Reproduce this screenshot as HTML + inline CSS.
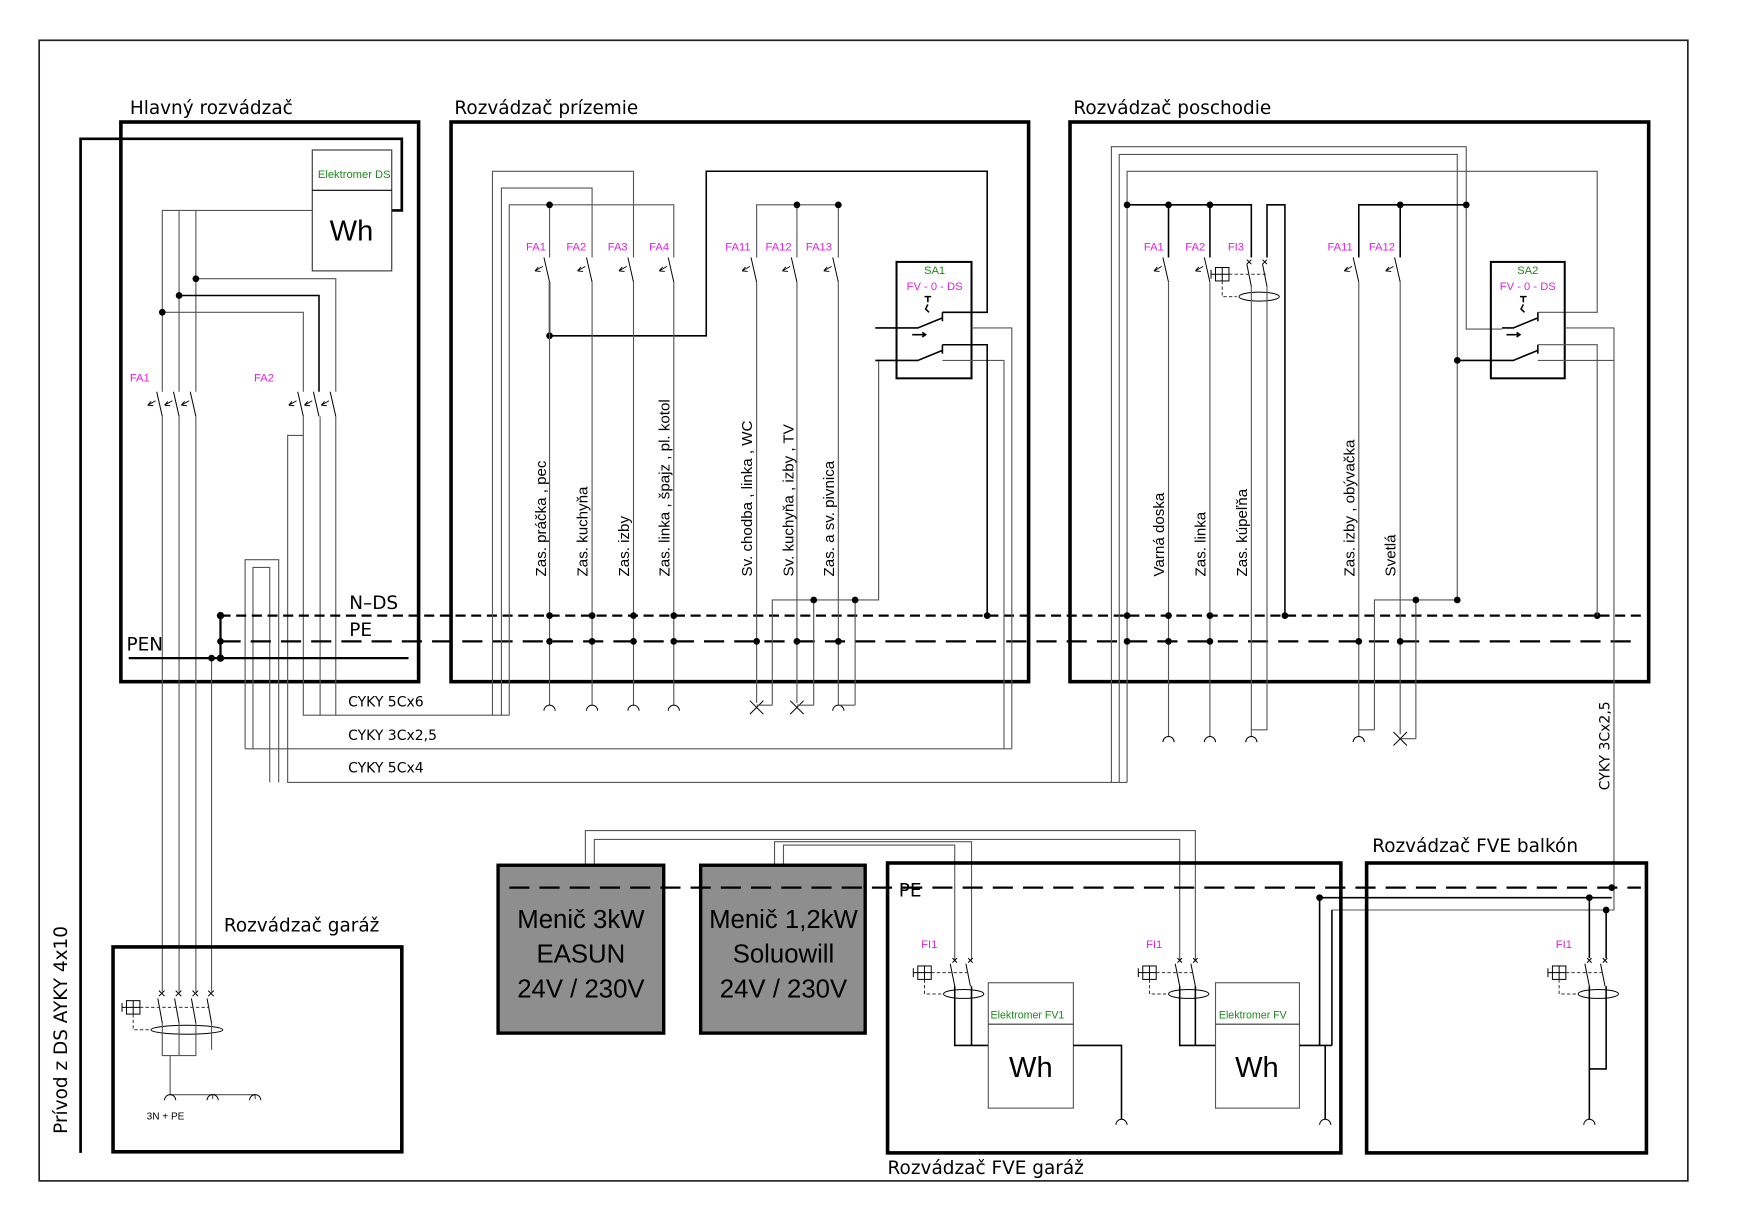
<!DOCTYPE html>
<html><head><meta charset="utf-8"><style>
html,body{margin:0;padding:0;background:#fff;}
svg{display:block;}
text{font-family:"Liberation Sans",sans-serif;}
.g{stroke:#555;stroke-width:1;fill:none}
.k{stroke:#000;stroke-width:1.4;fill:none}
.b{stroke:#000;stroke-width:3.2;fill:none}
.fa{fill:#e020e0;font-size:10px}
.gr{fill:#1a8a1a;font-size:10px}
.hd{font-size:16.5px;fill:#000;font-family:"DejaVu Sans",sans-serif}
.rl{font-family:"DejaVu Sans",sans-serif;font-size:12.5px}
.rv{font-family:"DejaVu Sans",sans-serif;font-size:13.5px}
</style></head><body>
<svg width="1755" height="1229" viewBox="0 0 1568 1098" preserveAspectRatio="none" xmlns="http://www.w3.org/2000/svg">
<defs>
<g id="mcb"><path d="M-5,0 L0,22" stroke="#000" stroke-width="0.9" fill="none"/><path d="M-6,8 L-13,12 M-13,12 L-8,12.5 M-13,12 L-10,8.5" stroke="#000" stroke-width="0.8" fill="none"/></g>
<g id="sock"><path d="M-5,5 A5,5 0 0 1 5,5" stroke="#000" stroke-width="0.9" fill="none"/></g>
<g id="xx"><path d="M-6,-6 L6,6 M6,-6 L-6,6" stroke="#000" stroke-width="0.9"/></g>
<g id="tst"><rect x="-6" y="-6" width="12" height="12" fill="none" stroke="#000" stroke-width="0.9"/><path d="M0,-6V6 M-6,0H6 M-10,-4V4 M-10,0H-6" stroke="#000" stroke-width="0.9"/></g>
</defs>
<rect width="1568" height="1098" fill="#fff"/>
<rect x="35" y="36" width="1473" height="1019" fill="none" stroke="#222" stroke-width="1.5"/>
<path d="M72,1030 V124 H359 V188 H350" stroke="#000" stroke-width="2.4" fill="none"/>
<text transform="translate(60,1013) rotate(-90)" class="hd">Prívod z DS AYKY 4x10</text>

<text x="116" y="102" class="hd">Hlavný rozvádzač</text>
<rect x="108" y="109" width="266" height="500" class="b"/>
<rect x="279" y="134" width="71" height="108" fill="#fff" stroke="#333" stroke-width="1"/>
<line x1="279" y1="170" x2="350" y2="170" stroke="#000" stroke-width="1"/>
<text x="284" y="159" class="gr">Elektromer DS</text>
<text x="314" y="215" text-anchor="middle" style="font-size:26px">Wh</text>
<path class="g" d="M279,188 H145 V350 M160,188 V350 M175,188 V350"/>
<path class="g" d="M175,249 H300 V350 M145,279 H271 V350"/>
<path class="k" d="M160,264 H285 V350" stroke-width="1.6"/>
<circle cx="175" cy="249" r="3"/><circle cx="160" cy="264" r="3"/><circle cx="145" cy="279" r="3"/>
<text x="116" y="341" class="fa">FA1</text><text x="227" y="341" class="fa">FA2</text>
<use href="#mcb" x="145" y="350"/><use href="#mcb" x="160" y="350"/><use href="#mcb" x="175" y="350"/>
<use href="#mcb" x="271" y="350"/><use href="#mcb" x="285" y="350"/><use href="#mcb" x="300" y="350"/>
<path class="g" d="M145,372 V886 M160,372 V886 M175,372 V886 M189,588 V886"/>
<path class="g" d="M271,372 V639 H455 M286,372 V639 M300,372 V639"/>
<path class="g" d="M271,389 H257 V699 H1007"/>
<path class="g" d="M219,669 V500 H249 V699 M226,669 V507 H241 V699 M219,669 H904"/>
<line x1="197" y1="550" x2="1466" y2="550" stroke="#000" stroke-width="2" stroke-dasharray="9,5"/>
<line x1="197" y1="573" x2="1466" y2="573" stroke="#000" stroke-width="2" stroke-dasharray="18,9"/>
<line x1="115" y1="588" x2="365" y2="588" stroke="#000" stroke-width="2"/>
<line x1="197" y1="550" x2="197" y2="588" stroke="#000" stroke-width="2"/>
<circle cx="197" cy="550" r="3.3"/><circle cx="197" cy="573" r="3"/><circle cx="197" cy="588" r="3.3"/><circle cx="189" cy="588" r="3"/>
<text x="312" y="544" class="hd">N–DS</text><text x="312" y="568" class="hd">PE</text><text x="113" y="581" class="hd">PEN</text>
<text x="311" y="631" class="rl">CYKY 5Cx6</text>
<text x="311" y="661" class="rl">CYKY 3Cx2,5</text>
<text x="311" y="690" class="rl">CYKY 5Cx4</text>

<text x="406" y="102" class="hd">Rozvádzač prízemie</text>
<rect x="403" y="109" width="516" height="500" class="b"/>
<path class="g" d="M440,639 V153 H566 V230 M448,639 V168 H529 V230 M455,639 V183 H602 V230 M491,183 V230"/>
<path class="k" d="M491,252 V300 H631 V153 H882 V279 H842"/>
<path class="g" d="M676,230 V183 H749 V230 M712,183 V230"/>
<circle cx="491" cy="183" r="3"/><circle cx="491" cy="300" r="3"/><circle cx="712" cy="183" r="3"/><circle cx="749" cy="183" r="3"/>
<text x="470" y="224" class="fa">FA1</text><text x="506" y="224" class="fa">FA2</text><text x="543" y="224" class="fa">FA3</text><text x="580" y="224" class="fa">FA4</text>
<text x="648" y="224" class="fa">FA11</text><text x="684" y="224" class="fa">FA12</text><text x="720" y="224" class="fa">FA13</text>
<use href="#mcb" x="491" y="230"/><use href="#mcb" x="529" y="230"/><use href="#mcb" x="566" y="230"/><use href="#mcb" x="602" y="230"/>
<use href="#mcb" x="676" y="230"/><use href="#mcb" x="712" y="230"/><use href="#mcb" x="749" y="230"/>
<path class="g" d="M491,252 V630 M529,252 V630 M566,252 V630 M602,252 V630 M676,252 V628 M712,252 V628 M749,252 V630"/>
<use href="#sock" x="491" y="630"/><use href="#sock" x="529" y="630"/><use href="#sock" x="566" y="630"/><use href="#sock" x="602" y="630"/><use href="#sock" x="749" y="630"/>
<use href="#xx" x="676" y="632"/><use href="#xx" x="712" y="632"/>
<path class="g" d="M690,630 V536 H785 V322 M727,630 V536 M764,630 V536 M676,630 H690 M712,630 H727 M749,630 H764"/>
<circle cx="727" cy="536" r="3"/><circle cx="764" cy="536" r="3"/>
<g class="rv">
<text transform="translate(488,515) rotate(-90)">Zas. práčka , pec</text>
<text transform="translate(525,515) rotate(-90)">Zas. kuchyňa</text>
<text transform="translate(562,515) rotate(-90)">Zas. izby</text>
<text transform="translate(598,515) rotate(-90)">Zas. linka , špajz , pl. kotol</text>
<text transform="translate(672,515) rotate(-90)">Sv. chodba , linka , WC</text>
<text transform="translate(709,515) rotate(-90)">Sv. kuchyňa , izby , TV</text>
<text transform="translate(745,515) rotate(-90)">Zas. a sv. pivnica</text>
</g>
<circle cx="491" cy="550" r="3"/><circle cx="529" cy="550" r="3"/><circle cx="566" cy="550" r="3"/><circle cx="602" cy="550" r="3"/><circle cx="882" cy="550" r="3"/>
<circle cx="491" cy="573" r="3"/><circle cx="529" cy="573" r="3"/><circle cx="566" cy="573" r="3"/><circle cx="602" cy="573" r="3"/>
<circle cx="676" cy="573" r="3"/><circle cx="712" cy="573" r="3"/><circle cx="749" cy="573" r="3"/>
<rect x="801" y="234" width="67" height="104" fill="none" stroke="#000" stroke-width="1.8"/>
<text x="835" y="245" text-anchor="middle" class="gr">SA1</text>
<text x="835" y="259" text-anchor="middle" class="fa">FV - 0 - DS</text>
<path class="k" stroke-width="1" d="M782,293 H820 L842,284 M842,279 V287 M782,322 H820 L842,313 M842,308 V316 M829,265 V270 M826,265 H832 M829,272 l-2,4 l3,3 M815,299 H827 M824,297 L827,299 L824,301"/>
<path class="g" d="M868,293 H904 V669 M842,322 H897 V669"/>
<path class="k" d="M842,308 H882 V550"/>

<text x="959" y="102" class="hd">Rozvádzač poschodie</text>
<rect x="956" y="109" width="517" height="500" class="b"/>
<path class="g" d="M993,699 V131 H1310 V294 H1342 M1000,699 V138 H1302 V536 M1007,699 V153 H1427 V279 H1374"/>
<path class="k" d="M1007,183 H1118 V230 M1044,183 V230 M1081,183 V230 M1214,230 V183 H1310 M1251,183 V230 M1132,230 V183 H1148 V550"/>
<circle cx="1007" cy="183" r="3"/><circle cx="1044" cy="183" r="3"/><circle cx="1081" cy="183" r="3"/><circle cx="1251" cy="183" r="3"/><circle cx="1310" cy="183" r="3"/>
<text x="1022" y="224" class="fa">FA1</text><text x="1059" y="224" class="fa">FA2</text><text x="1097" y="224" class="fa">FI3</text><text x="1186" y="224" class="fa">FA11</text><text x="1223" y="224" class="fa">FA12</text>
<use href="#mcb" x="1044" y="230"/><use href="#mcb" x="1081" y="230"/><use href="#mcb" x="1214" y="230"/><use href="#mcb" x="1251" y="230"/>
<path d="M1114,232 l4,4 M1118,232 l-4,4 M1128,232 l4,4 M1132,232 l-4,4 M1114,236 L1118,256 M1128,236 L1132,256" stroke="#000" stroke-width="0.9" fill="none"/>
<use href="#tst" x="1092" y="245"/>
<path d="M1098,245 H1132 M1092,251 V265 H1105" stroke="#333" stroke-width="0.9" stroke-dasharray="3,2" fill="none"/>
<ellipse cx="1125" cy="265" rx="18" ry="4" fill="none" stroke="#000" stroke-width="0.9"/>
<path class="g" d="M1044,252 V658 M1081,252 V658 M1118,256 V658 M1132,256 V652 H1118 M1214,252 V658 M1228,652 V536 H1302 M1214,652 H1228 M1251,252 V656 M1265,660 V536 M1251,660 H1265"/>
<use href="#sock" x="1044" y="658"/><use href="#sock" x="1081" y="658"/><use href="#sock" x="1118" y="658"/><use href="#sock" x="1214" y="658"/>
<use href="#xx" x="1251" y="660"/>
<circle cx="1265" cy="536" r="3"/><circle cx="1302" cy="536" r="3"/><circle cx="1302" cy="322" r="3"/>
<g class="rv">
<text transform="translate(1040,515) rotate(-90)">Varná doska</text>
<text transform="translate(1077,515) rotate(-90)">Zas. linka</text>
<text transform="translate(1114,515) rotate(-90)">Zas. kúpeľňa</text>
<text transform="translate(1210,515) rotate(-90)">Zas. izby , obývačka</text>
<text transform="translate(1247,515) rotate(-90)">Svetlá</text>
</g>
<circle cx="1007" cy="550" r="3"/><circle cx="1044" cy="550" r="3"/><circle cx="1081" cy="550" r="3"/><circle cx="1148" cy="550" r="3"/><circle cx="1427" cy="550" r="3"/>
<circle cx="1007" cy="573" r="3"/><circle cx="1044" cy="573" r="3"/><circle cx="1081" cy="573" r="3"/><circle cx="1214" cy="573" r="3"/><circle cx="1251" cy="573" r="3"/>
<rect x="1332" y="234" width="66" height="104" fill="none" stroke="#000" stroke-width="1.8"/>
<text x="1365" y="245" text-anchor="middle" class="gr">SA2</text>
<text x="1365" y="259" text-anchor="middle" class="fa">FV - 0 - DS</text>
<path class="k" stroke-width="1" d="M1342,293 H1352 L1374,284 M1374,279 V287 M1302,322 H1352 L1374,313 M1374,308 V316 M1361,265 V270 M1358,265 H1364 M1361,272 l-2,4 l3,3 M1346,299 H1358 M1355,297 L1358,299 L1355,301"/>
<path class="g" d="M1398,293 H1442 V813 H1190 M1374,322 H1442 M1374,308 H1427 V550"/>
<text transform="translate(1438,706) rotate(-90)" class="rl">CYKY 3Cx2,5</text>

<text x="200" y="832" class="hd">Rozvádzač garáž</text>
<rect x="101" y="846" width="258" height="183" class="b"/>
<path d="M142,885 l5,5 M147,885 l-5,5 M157,885 l5,5 M162,885 l-5,5 M172,885 l5,5 M177,885 l-5,5 M186,885 l5,5 M191,885 l-5,5 M141,892 L145,914 M156,892 L160,914 M171,892 L175,914 M185,892 L189,914" stroke="#000" stroke-width="0.9" fill="none"/>
<use href="#tst" x="119" y="900"/>
<path d="M125,900 H187 M119,906 V920 H135" stroke="#333" stroke-width="0.9" stroke-dasharray="3,2" fill="none"/>
<ellipse cx="167" cy="920" rx="32" ry="4" fill="none" stroke="#000" stroke-width="0.9"/>
<path class="g" d="M145,914 V943 H175 V914 M160,914 V943 M189,914 V938 M152,943 V978 H228 V982 M190,978 V982"/>
<use href="#sock" x="152" y="978"/><use href="#sock" x="190" y="978"/><use href="#sock" x="228" y="978"/>
<text x="131" y="1000" style="font-size:9px">3N + PE</text>

<path class="g" d="M523,782 V742 H1068 V858 M531,782 V750 H1054 V858 M692,782 V752 H868 V858 M700,782 V755 H853 V858"/>
<rect x="445" y="773" width="148" height="150" fill="#8e8e8e" stroke="#000" stroke-width="3"/>
<rect x="626" y="773" width="147" height="150" fill="#8e8e8e" stroke="#000" stroke-width="3"/>
<g style="font-size:23px;fill:#000" text-anchor="middle">
<text x="519" y="829">Menič 3kW</text><text x="519" y="860">EASUN</text><text x="519" y="891">24V / 230V</text>
<text x="700" y="829">Menič 1,2kW</text><text x="700" y="860">Soluowill</text><text x="700" y="891">24V / 230V</text>
</g>
<line x1="455" y1="793" x2="1466" y2="793" stroke="#000" stroke-width="2" stroke-dasharray="18,9"/>
<text x="803" y="801" class="hd">PE</text>

<rect x="793" y="771" width="405" height="259" class="b"/>
<text x="793" y="1049" class="hd">Rozvádzač FVE garáž</text>
<text x="823" y="847" class="fa">FI1</text><text x="1024" y="847" class="fa">FI1</text>
<g id="fi1">
<path d="M851,856 l4,4 M855,856 l-4,4 M865,856 l4,4 M869,856 l-4,4 M849,861 L853,881 M863,861 L867,881" stroke="#000" stroke-width="0.9" fill="none"/>
<use href="#tst" x="826" y="869"/>
<path d="M832,869 H866 M826,875 V888 H842" stroke="#333" stroke-width="0.9" stroke-dasharray="3,2" fill="none"/>
<ellipse cx="861" cy="888" rx="18" ry="4" fill="none" stroke="#000" stroke-width="0.9"/>
</g>
<use href="#fi1" x="201" y="0"/>
<path class="k" stroke-width="1" d="M853,881 V934 H883 M868,881 V934"/>
<path class="k" stroke-width="1" d="M1054,881 V934 H1086 M1068,881 V934"/>
<rect x="883" y="878" width="76" height="112" fill="#fff" stroke="#555" stroke-width="1"/>
<line x1="883" y1="915" x2="959" y2="915" stroke="#333" stroke-width="1"/>
<text x="885" y="910" class="gr" style="font-size:9.5px">Elektromer FV1</text>
<text x="921" y="962" text-anchor="middle" style="font-size:26px">Wh</text>
<rect x="1086" y="878" width="75" height="112" fill="#fff" stroke="#555" stroke-width="1"/>
<line x1="1086" y1="915" x2="1161" y2="915" stroke="#333" stroke-width="1"/>
<text x="1089" y="910" class="gr" style="font-size:9.5px">Elektromer FV</text>
<text x="1123" y="962" text-anchor="middle" style="font-size:26px">Wh</text>
<path class="k" stroke-width="1" d="M959,934 H1002 V1000 M1161,934 H1190 M1179,802 V934 M1184,934 V1000 M1190,813 V934"/>
<use href="#sock" x="1002" y="1000"/><use href="#sock" x="1184" y="1000"/>
<path class="k" stroke-width="1" d="M1179,802 H1440"/>
<circle cx="1179" cy="802" r="3"/>

<rect x="1221" y="771" width="250" height="259" class="b"/>
<text x="1226" y="761" class="hd">Rozvádzač FVE balkón</text>
<circle cx="1440" cy="793" r="3"/><circle cx="1420" cy="802" r="3"/><circle cx="1435" cy="813" r="3"/>
<text x="1390" y="847" class="fa">FI1</text>
<use href="#fi1" x="567" y="0"/>
<path class="k" stroke-width="1" d="M1420,802 V856 M1435,813 V856 M1420,881 V1000 M1435,881 V955 H1420"/>
<use href="#sock" x="1420" y="1000"/>
</svg>
</body></html>
